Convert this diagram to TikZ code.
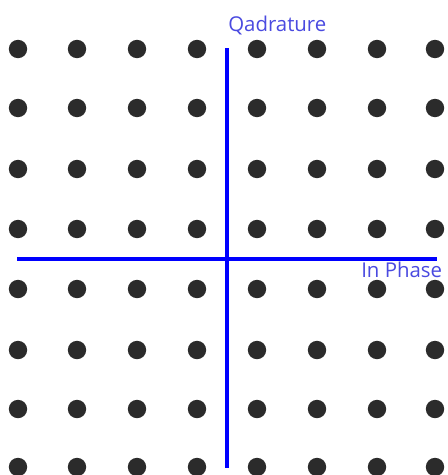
\documentclass[tikz,border=0pt]{standalone}
\usepackage{fontspec}
\setmainfont{Open Sans}
\definecolor{dotc}{HTML}{2B2B2B}
\definecolor{labc}{HTML}{4A4AE0}
\tikzset{
  pt/.style={circle,fill=dotc,inner sep=0pt,minimum size=13.8pt},
  axis/.style={draw=blue,line width=2.6pt},
  lab/.style={text=labc,font=\fontsize{15.3}{17}\selectfont,inner sep=0pt}
}
\begin{document}
\begin{tikzpicture}[x=0.75pt,y=-0.75pt]
\useasboundingbox (0,0) rectangle (448,475);
\foreach \c/\x in {1/18,2/77,3/137,4/197,5/257,6/317,7/377,8/435}{
  \foreach \r/\y in {1/49,2/108,3/169,4/229,5/289,6/350,7/409,8/467}{
    \node[pt] (d\c\r) at (\x,\y) {};
  }
}
\coordinate (vt) at (227,48);
\coordinate (vb) at (227,468);
\coordinate (hl) at (17,259);
\coordinate (hr) at (437,259);
\draw[axis] (vt) -- (vb);
\draw[axis] (hl) -- (hr);
\node[lab,anchor=base west] (q) at (228,31) {Qadrature};
\node[lab,anchor=base west] (ip) at (361,277) {In Phase};
\end{tikzpicture}
\end{document}
